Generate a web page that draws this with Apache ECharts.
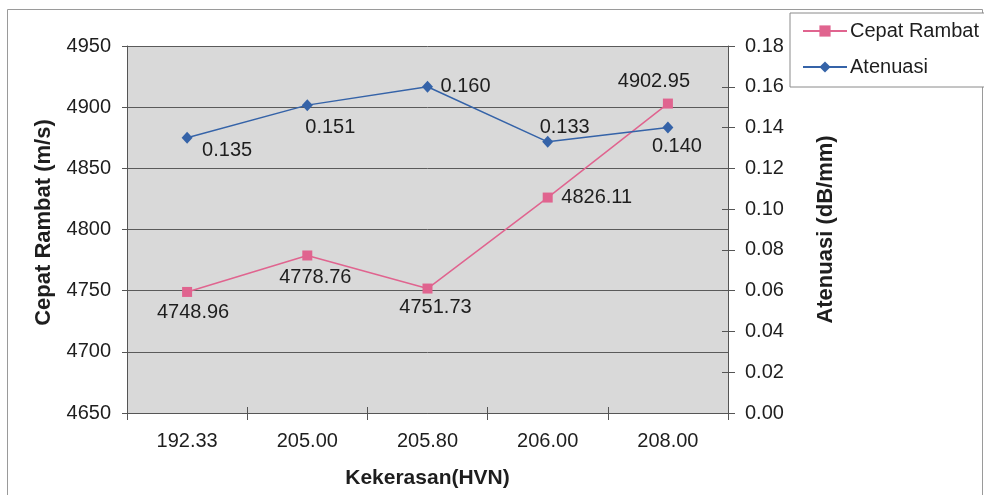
<!DOCTYPE html>
<html>
<head>
<meta charset="utf-8">
<script src="https://cdn.jsdelivr.net/npm/echarts@6/dist/echarts.min.js"></script>
<style>
  html, body { margin: 0; padding: 0; background: #fff; }
  #chart { width: 984px; height: 495px; }
</style>
</head>
<body>
<div id="chart"></div>
<script>
// Hardness categories (x axis)
const kekerasan = ['192.33', '205.00', '205.80', '206.00', '208.00'];
// Wave speed, m/s (left axis)
const cepatRambat = [4748.96, 4778.76, 4751.73, 4826.11, 4902.95];
// Attenuation, dB/mm (right axis)
const atenuasi = [0.135, 0.151, 0.160, 0.133, 0.140];

// Label offsets (text centre relative to the marker)
const offsetsCepat = [[6, 21], [8, 22], [8, 19], [49, 0], [-14, -22]];
const offsetsAten = [[40, 13], [23, 22], [38, 0], [17, -14], [9, 19]];

const FONT = '"Liberation Sans", Arial, sans-serif';
const TXT = '#1e1e1e';
const PINK = '#e0648f';
const BLUE = '#3563a8';

const chart = echarts.init(document.getElementById('chart'), null, { renderer: 'canvas' });

function labelled(values, offsets, digits) {
  return values.map((v, i) => ({
    value: v,
    label: {
      show: true,
      position: 'inside',
      offset: offsets[i],
      formatter: () => v.toFixed(digits),
      color: TXT,
      fontFamily: FONT,
      fontSize: 20
    }
  }));
}

chart.setOption({
  animation: false,
  backgroundColor: '#ffffff',
  textStyle: { fontFamily: FONT },
  graphic: [{
    type: 'rect',
    shape: { x: 7.5, y: 9.5, width: 975, height: 500 },
    style: { fill: 'none', stroke: '#9a9a9a', lineWidth: 1 },
    silent: true,
    z: -10
  }],
  legend: {
    orient: 'vertical',
    left: 790,
    top: 13,
    padding: [8, 10, 10, 12],
    itemGap: 16,
    itemWidth: 44,
    itemHeight: 14,
    borderColor: '#8a8a8a',
    borderWidth: 1,
    backgroundColor: '#ffffff',
    textStyle: { fontFamily: FONT, fontSize: 20, color: TXT, lineHeight: 20, padding: [0, 0, 0, -2] },
    data: ['Cepat Rambat', 'Atenuasi']
  },
  grid: {
    left: 127,
    right: 256,
    top: 46,
    bottom: 82,
    show: true,
    backgroundColor: '#d9d9d9',
    borderWidth: 0
  },
  xAxis: [{
    type: 'category',
    data: kekerasan,
    boundaryGap: true,
    name: 'Kekerasan(HVN)',
    nameLocation: 'middle',
    nameGap: 55,
    nameTextStyle: { fontFamily: FONT, fontSize: 21, fontWeight: 'bold', color: TXT },
    axisLine: { lineStyle: { color: '#555', width: 1 } },
    axisTick: { show: true, length: 7, alignWithLabel: false, lineStyle: { color: '#555' } },
    axisLabel: { margin: 18, color: TXT, fontFamily: FONT, fontSize: 20 },
    splitLine: { show: false }
  }, {
    // inner half of the crossing tick marks
    type: 'category',
    data: kekerasan,
    position: 'bottom',
    boundaryGap: true,
    axisLine: { show: false },
    axisTick: { show: true, inside: true, length: 6, lineStyle: { color: '#555' } },
    axisLabel: { show: false },
    splitLine: { show: false }
  }],
  yAxis: [{
    type: 'value',
    min: 4650,
    max: 4950,
    interval: 50,
    position: 'left',
    name: 'Cepat Rambat (m/s)',
    nameLocation: 'middle',
    nameRotate: 90,
    nameGap: 72,
    nameTextStyle: { fontFamily: FONT, fontSize: 22, fontWeight: 'bold', color: TXT, padding: [0, 0, 0, 14] },
    axisLine: { show: true, lineStyle: { color: '#555', width: 1 } },
    axisTick: { show: true, length: 5, lineStyle: { color: '#555' } },
    axisLabel: { margin: 16, color: TXT, fontFamily: FONT, fontSize: 20, formatter: v => String(v) },
    splitLine: { show: true, lineStyle: { color: '#5a5a5a', width: 1 } }
  }, {
    type: 'value',
    min: 0,
    max: 0.18,
    interval: 0.02,
    position: 'right',
    name: 'Atenuasi (dB/mm)',
    nameLocation: 'middle',
    nameRotate: 90,
    nameGap: 87,
    nameTextStyle: { fontFamily: FONT, fontSize: 22, fontWeight: 'bold', color: TXT },
    axisLine: { show: true, lineStyle: { color: '#555', width: 1 } },
    axisTick: { show: true, length: 7, lineStyle: { color: '#555' } },
    axisLabel: { margin: 17, color: TXT, fontFamily: FONT, fontSize: 20, formatter: v => v.toFixed(2) },
    splitLine: { show: false }
  }, {
    // inner half of the crossing tick marks on the right axis
    type: 'value',
    min: 0,
    max: 0.18,
    interval: 0.02,
    position: 'right',
    axisLine: { show: false },
    axisTick: { show: true, inside: true, length: 6, lineStyle: { color: '#555' } },
    axisLabel: { show: false },
    splitLine: { show: false }
  }],
  series: [{
    name: 'Cepat Rambat',
    type: 'line',
    xAxisIndex: 0,
    yAxisIndex: 0,
    data: labelled(cepatRambat, offsetsCepat, 2),
    symbol: 'rect',
    symbolSize: 10,
    lineStyle: { color: PINK, width: 1.5 },
    itemStyle: { color: PINK },
    z: 3
  }, {
    name: 'Atenuasi',
    type: 'line',
    xAxisIndex: 0,
    yAxisIndex: 1,
    data: labelled(atenuasi, offsetsAten, 3),
    symbol: 'diamond',
    symbolSize: [11, 12],
    lineStyle: { color: BLUE, width: 1.5 },
    itemStyle: { color: BLUE },
    z: 3
  }]
});
</script>
</body>
</html>
